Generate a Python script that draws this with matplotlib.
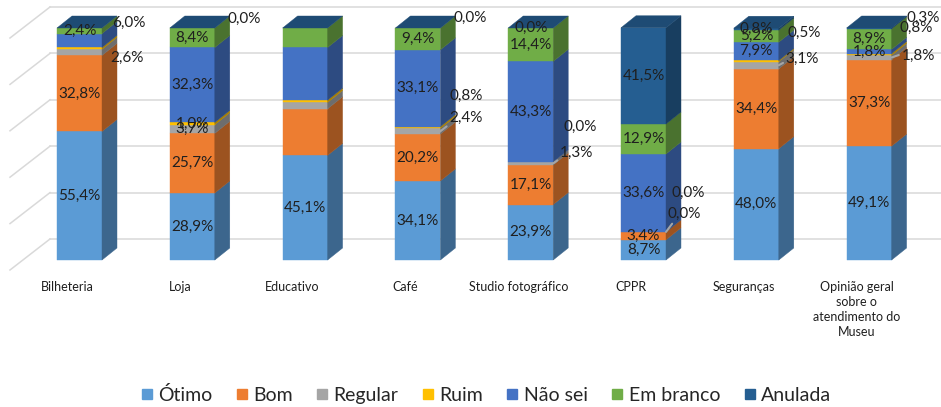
"""
Satisfaction survey by museum service - Excel-style 3D stacked columns (100%).
"""

import matplotlib
matplotlib.use('Agg')
import matplotlib.pyplot as plt
from matplotlib.patches import Polygon
from matplotlib.lines import Line2D
from matplotlib.colors import to_rgb

plt.rcParams['font.family'] = ['Lato', 'DejaVu Sans']

# ── Data ───────────────────────────────────────────────────────────────────────
categories = ["Bilheteria", "Loja", "Educativo", "Café", "Studio fotográfico", "CPPR",
              "Seguranças", "Opinião geral\nsobre o\natendimento do\nMuseu"]
series = ["Ótimo", "Bom", "Regular", "Ruim", "Não sei", "Em branco", "Anulada"]

otimo     = [55.4, 28.9, 45.1, 34.1, 23.9,  8.7, 48.0, 49.1]
bom       = [32.8, 25.7, 20.1, 20.2, 17.1,  3.4, 34.4, 37.3]
regular   = [ 2.6,  3.7,  2.7,  2.4,  1.3,  0.0,  3.1,  1.8]
ruim      = [ 0.8,  1.0,  1.0,  0.8,  0.0,  0.0,  0.5,  0.8]
nao_sei   = [ 6.0, 32.3, 22.7, 33.1, 43.3, 33.6,  7.9,  1.8]
em_branco = [ 2.4,  8.4,  8.4,  9.4, 14.4, 12.9,  5.2,  8.9]
anulada   = [ 0.0,  0.0,  0.0,  0.0,  0.0, 41.5,  0.8,  0.3]

values = [otimo, bom, regular, ruim, nao_sei, em_branco, anulada]
colors = ["#5B9BD5", "#ED7D31", "#A5A5A5", "#FFC000", "#4472C4", "#70AD47", "#255E91"]

# ── Label layout (category idx, series idx) ────────────────────────────────────
# labels moved outside the bar: offset in pixels from the front-right edge, leader line
OUTSIDE = {
    (0, 2): (8, -6, False), (0, 4): (10, 18, False),
    (1, 6): (13, 9, False),
    (3, 2): (9, 13, True), (3, 3): (9, 32, False), (3, 6): (13, 10, False),
    (4, 2): (7, 10, True), (4, 3): (10, 35, False),
    (5, 2): (2, 18, True), (5, 3): (6, 39, False),
    (6, 2): (7, 6, True), (6, 3): (9, 28, False),
    (7, 2): (10, 2, True), (7, 3): (8, 27, False), (7, 6): (15, 10, False),
}
HIDDEN = {(0, 3), (0, 6), (2, 1), (2, 2), (2, 3), (2, 4), (2, 5), (2, 6)}

# ── Geometry (pixel scale of the reference) ───────────────────────────────────
W, H = 941, 407
PX_X = 112.8          # pixels per category
PX_Y = 2.32           # pixels per percent
X0, Y0 = 79.5, 260    # first bar centre / zero line (pixels)
BW = 45 / PX_X
DX, DY = 15 / PX_X, 12 / PX_Y
TEXT = '#1f1f1f'


def shade(c, f):
    r, g, b = to_rgb(c)
    return (r * f, g * f, b * f)


fig = plt.figure(figsize=(W / 100, H / 100), dpi=100)
ax = fig.add_axes([0, 0, 1, 1])
ax.set_xlim(-X0 / PX_X, (W - X0) / PX_X)
ax.set_ylim((Y0 - H) / PX_Y, Y0 / PX_Y)
ax.axis('off')

# back wall gridlines with the side-wall diagonals
wall_x = (50 - X0) / PX_X
for g in range(0, 101, 20):
    yb = g + 21 / PX_Y
    ax.plot([wall_x, ax.get_xlim()[1]], [yb, yb], color='#d9d9d9', lw=1.1, zorder=0)
    ax.plot([wall_x, wall_x - 40 / PX_X], [yb, yb - 31 / PX_Y], color='#d9d9d9', lw=1.1, zorder=0)

for i, cat in enumerate(categories):
    xl, xr = i - BW / 2, i + BW / 2
    cum = 0.0
    for j, col in enumerate(colors):
        v = values[j][i]
        v0, v1 = cum, cum + v
        cum = v1
        if v > 0:
            ax.add_patch(Polygon([(xl, v0), (xr, v0), (xr, v1), (xl, v1)],
                                 closed=True, fc=col, ec=col, lw=0.3, zorder=2))
            sc = shade(col, 0.66)
            ax.add_patch(Polygon([(xr, v0), (xr + DX, v0 + DY), (xr + DX, v1 + DY), (xr, v1)],
                                 closed=True, fc=sc, ec=sc, lw=0.3, zorder=2))
        if (i, j) in HIDDEN:
            continue
        txt = f"{v:.1f}%".replace('.', ',')
        mid = (v0 + v1) / 2
        if (i, j) in OUTSIDE:
            ox, oy, leader = OUTSIDE[(i, j)]
            kw = {}
            if leader:
                kw['arrowprops'] = dict(arrowstyle='-', color='#a6a6a6', lw=1.5,
                                        shrinkA=0, shrinkB=0, relpos=(0.5, 1.0))
            ax.annotate(txt, xy=(xr, mid), xytext=(ox, oy), textcoords='offset pixels',
                        ha='left', va='center', fontsize=11, color=TEXT, zorder=4, **kw)
        else:
            ax.text(i, mid, txt, ha='center', va='center', fontsize=11, color=TEXT, zorder=4)
    # top face takes the colour of the last series
    top = shade(colors[-1], 0.8)
    ax.add_patch(Polygon([(xl, cum), (xr, cum), (xr + DX, cum + DY), (xl + DX, cum + DY)],
                         closed=True, fc=top, ec=top, lw=0.3, zorder=3))
    ax.text(i - 12.5 / PX_X, -21 / PX_Y, cat, ha='center', va='top', fontsize=9,
            linespacing=1.3, color=TEXT)

handles = [Line2D([], [], marker='s', ls='', markersize=7.2, markerfacecolor=c,
                  markeredgecolor=c) for c in colors]
fig.legend(handles, series, loc='center', bbox_to_anchor=(486 / W, 1 - 395 / H), ncol=7,
           frameon=False, fontsize=14, handlelength=0.6, handletextpad=0.3,
           columnspacing=1.2, labelcolor='#262626', borderpad=0)

fig.savefig('out.png', dpi=100)
